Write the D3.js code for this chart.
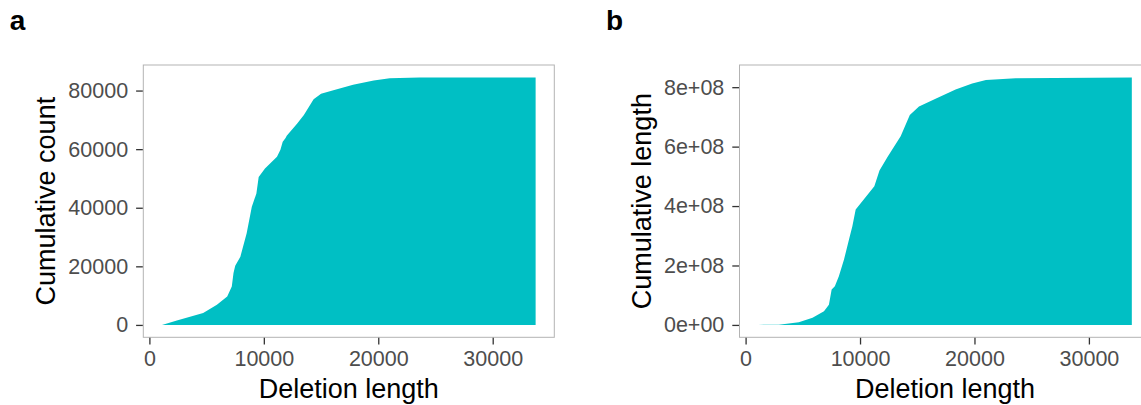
<!DOCTYPE html>
<html>
<head>
<meta charset="utf-8">
<script src="https://cdn.jsdelivr.net/npm/d3@7"></script>
<style>
  html, body { margin: 0; padding: 0; background: #ffffff; }
  svg { display: block; }
  text { font-family: "Liberation Sans", Arial, Helvetica, sans-serif; }
</style>
</head>
<body>
<svg id="chart" width="1141" height="405"></svg>
<script>
// Panel a: cumulative number of deletions by deletion length
const countLengths = [1100, 2400, 4700, 5900, 6800, 7200, 7350, 7500, 7950, 8500, 8950, 9350, 9550,
  10100, 11150, 11450, 11650, 11900, 12000, 12900, 13500, 14350, 15000, 16000, 17800, 19600, 21000, 23600, 33750];
const countValues = [0, 1500, 4100, 6900, 9700, 13100, 17700, 20200, 23300, 31300, 40300, 44900, 50500,
  53400, 57400, 59800, 62500, 63800, 64600, 68700, 71700, 77000, 78900, 80000, 82000, 83400, 84200, 84500, 84500];

// Panel b: cumulative deleted bases by deletion length
const sumLengths = [1100, 2900, 4650, 5850, 6850, 7280, 7520, 7800, 8150, 8600, 9030, 9330, 9620,
  10200, 11250, 11700, 12400, 13550, 14350, 15150, 16600, 18350, 19800, 21000, 23600, 33750];
const sumValues = [0, 1.0e6, 8.8e6, 2.4e7, 4.6e7, 6.8e7, 1.19e8, 1.30e8, 1.64e8, 2.2e8, 2.87e8, 3.32e8, 3.88e8,
  4.16e8, 4.67e8, 5.2e8, 5.65e8, 6.35e8, 7.06e8, 7.35e8, 7.61e8, 7.92e8, 8.12e8, 8.24e8, 8.30e8, 8.33e8];

// Tick labels
const xTicks = [0, 10000, 20000, 30000];
const countTicks = [0, 20000, 40000, 60000, 80000];
const sumTicks = [0, 2e8, 4e8, 6e8, 8e8];

const panelLabels = ["a", "b"];
const xTitle = "Deletion length";
const yTitles = ["Cumulative count", "Cumulative length"];

const FILL = "#00BFC4";
const svg = d3.select("#chart");

// R-style scientific notation, e.g. 2e+08
function sciLabel(v) {
  const [m, e] = v.toExponential(0).split("e");
  const sign = e[0] === "-" ? "-" : "+";
  const digits = e.replace(/[+-]/, "").padStart(2, "0");
  return m + "e" + sign + digits;
}

// ggplot-like 5% expansion of a continuous range
function expanded(lo, hi) {
  const pad = (hi - lo) * 0.05;
  return [lo - pad, hi + pad];
}

function drawPanel(opt) {
  const { left, top, width, height, xs: xv, ys: yv, yTicks, yFormat, label, yTitle } = opt;
  const g = svg.append("g");

  const x = d3.scaleLinear()
    .domain(expanded(d3.min(xv), d3.max(xv)))
    .range([left, left + width]);
  const y = d3.scaleLinear()
    .domain(expanded(0, d3.max(yv)))
    .range([top + height, top]);

  const pts = xv.map((d, i) => [d, yv[i]]);
  const area = d3.area()
    .x(d => x(d[0]))
    .y0(y(0))
    .y1(d => y(d[1]));

  g.append("path")
    .datum(pts)
    .attr("d", area)
    .attr("fill", FILL);

  // panel border
  g.append("rect")
    .attr("x", left).attr("y", top)
    .attr("width", width).attr("height", height)
    .attr("fill", "none")
    .attr("stroke", "#b3b3b3")
    .attr("stroke-width", 1);

  const tickLen = 6.7;

  // y axis
  const yAxis = d3.axisLeft(y)
    .tickValues(yTicks)
    .tickFormat(yFormat)
    .tickSize(tickLen)
    .tickPadding(8);
  const ya = g.append("g")
    .attr("transform", `translate(${left - 0.5},0)`)
    .call(yAxis);
  ya.select(".domain").remove();
  ya.selectAll(".tick line").attr("stroke", "#333333").attr("stroke-width", 1.3);
  ya.selectAll(".tick text")
    .attr("fill", "#4d4d4d")
    .attr("font-size", "21.5px")
    .attr("font-family", '"Liberation Sans", Arial, sans-serif');

  // x axis
  const xAxis = d3.axisBottom(x)
    .tickValues(xTicks)
    .tickFormat(d3.format("d"))
    .tickSize(tickLen)
    .tickPadding(6);
  const xa = g.append("g")
    .attr("transform", `translate(0,${top + height + 0.5})`)
    .call(xAxis);
  xa.select(".domain").remove();
  xa.selectAll(".tick line").attr("stroke", "#333333").attr("stroke-width", 1.3);
  xa.selectAll(".tick text")
    .attr("fill", "#4d4d4d")
    .attr("font-size", "21.5px")
    .attr("font-family", '"Liberation Sans", Arial, sans-serif');

  // axis titles
  g.append("text")
    .attr("x", left + width / 2)
    .attr("y", 398.3)
    .attr("text-anchor", "middle")
    .attr("font-size", "27px")
    .attr("fill", "#000")
    .text(xTitle);

  g.append("text")
    .attr("transform", `translate(${left - 88.3},${top + height / 2}) rotate(-90)`)
    .attr("text-anchor", "middle")
    .attr("font-size", "27px")
    .attr("fill", "#000")
    .text(yTitle);

  // panel tag
  g.append("text")
    .attr("x", left - 133.5)
    .attr("y", 30)
    .attr("font-size", "28px")
    .attr("font-weight", "bold")
    .attr("fill", "#000")
    .text(label);
}

drawPanel({
  left: 143.3, top: 65, width: 411, height: 272.3,
  xs: countLengths, ys: countValues,
  yTicks: countTicks, yFormat: d3.format("d"),
  label: panelLabels[0], yTitle: yTitles[0]
});

drawPanel({
  left: 739.5, top: 65, width: 411, height: 272.3,
  xs: sumLengths, ys: sumValues,
  yTicks: sumTicks, yFormat: sciLabel,
  label: panelLabels[1], yTitle: yTitles[1]
});
</script>
</body>
</html>
